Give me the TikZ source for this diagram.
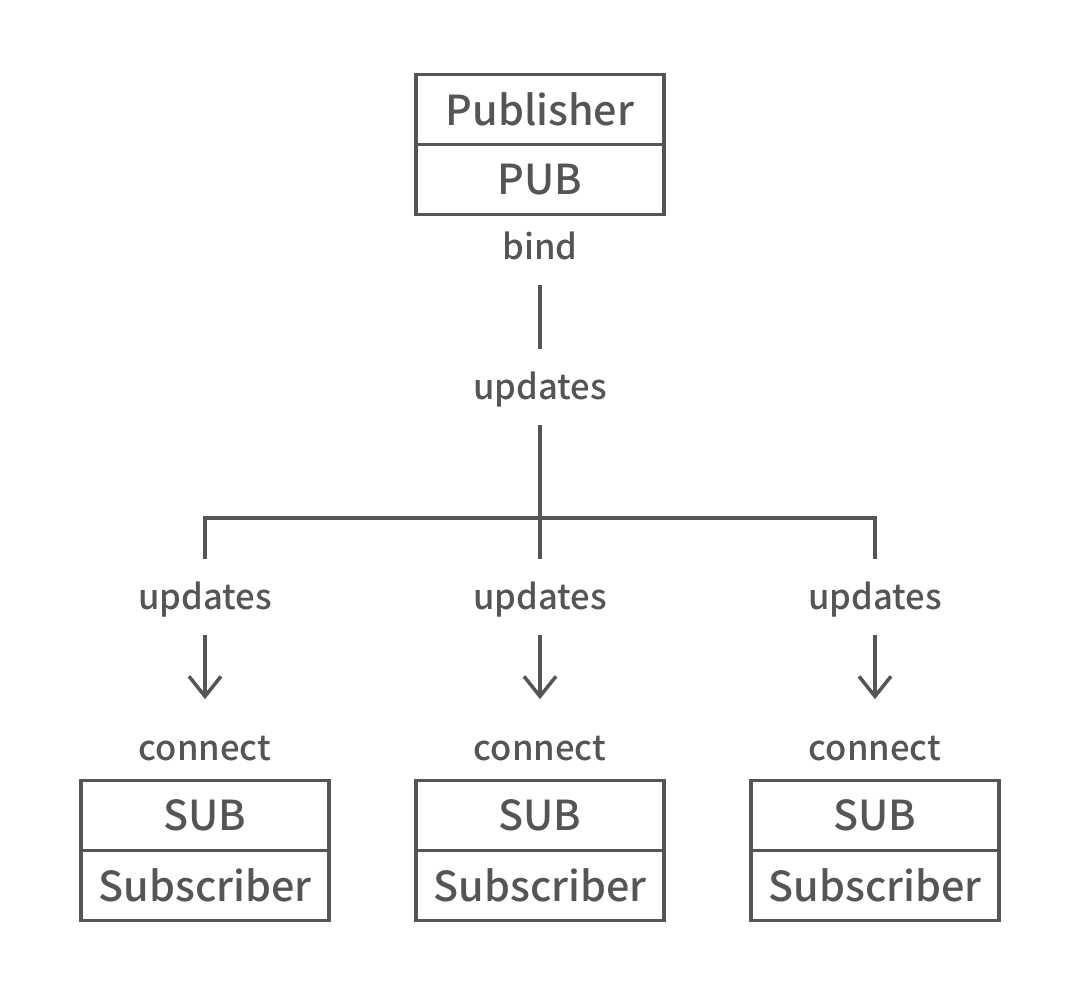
\documentclass[tikz,border=0pt]{standalone}
\usepackage{fontspec}
\setmainfont{Noto Sans CJK SC}[UprightFont=* Medium]
\usepackage{xcolor}
\usepackage{tikz}
\usetikzlibrary{positioning,arrows.meta}
\definecolor{ink}{RGB}{85,85,85}

\begin{document}
\begin{tikzpicture}[x=0.02cm,y=-0.02cm,
  cell/.style={draw=ink,line width=2pt,fill=white,text=ink,minimum width=4.96cm,minimum height=1.40cm,inner sep=0pt,outer sep=0pt,font=\fontsize{23.5}{28}\selectfont},
  lbl/.style={text=ink,inner sep=0pt,minimum height=1.5cm,text height=1.4em,text depth=0pt,font=\fontsize{19.7}{24}\selectfont},
  wire/.style={draw=ink,line width=2pt},
  feed/.style={wire,-{Straight Barb[length=0.4cm,width=0.64cm]},shorten >=0.22cm}]
\useasboundingbox (0,0) rectangle (1081,996);
% publisher
\node[cell] (pubname) at (540,109.5) {Publisher};
\node[cell,below=0pt of pubname] (pubsock) {PUB};
\node[lbl] (bind) at (540,247) {bind};
\node[lbl] (upd0) at (540,387) {updates};
\draw[wire] (bind) -- (upd0);
% fan out
\coordinate (hub) at (540,518);
\node[lbl] (upd1) at (205,597) {updates};
\node[lbl] (upd2) at (540,597) {updates};
\node[lbl] (upd3) at (875,597) {updates};
\draw[wire] (upd0) -- (upd2);
\draw[wire] (upd1.north) -- (upd1.north |- hub) -| (upd3.north);
% subscriber 1
\node[lbl] (con1) at (205,748) {connect};
\draw[feed] (upd1) -- (con1);
\node[cell] (sub1sock) at (205,815.5) {SUB};
\node[cell,below=0pt of sub1sock] (sub1name) {Subscriber};
% subscriber 2
\node[lbl] (con2) at (540,748) {connect};
\draw[feed] (upd2) -- (con2);
\node[cell] (sub2sock) at (540,815.5) {SUB};
\node[cell,below=0pt of sub2sock] (sub2name) {Subscriber};
% subscriber 3
\node[lbl] (con3) at (875,748) {connect};
\draw[feed] (upd3) -- (con3);
\node[cell] (sub3sock) at (875,815.5) {SUB};
\node[cell,below=0pt of sub3sock] (sub3name) {Subscriber};
\end{tikzpicture}
\end{document}
